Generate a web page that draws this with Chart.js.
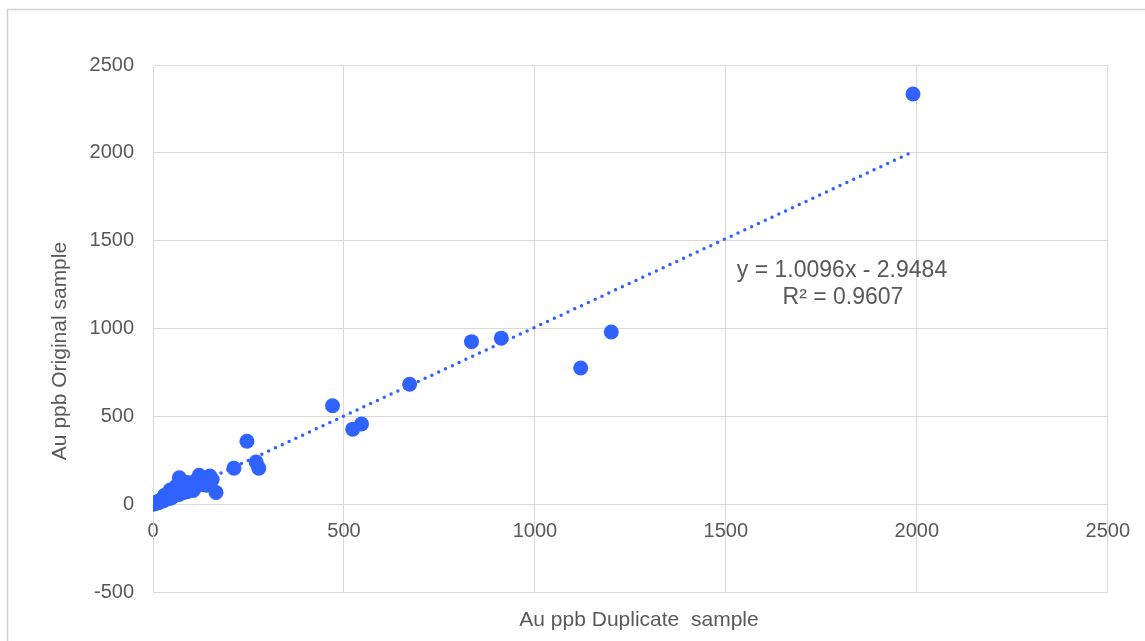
<!DOCTYPE html>
<html>
<head>
<meta charset="utf-8">
<script src="https://cdn.jsdelivr.net/npm/chart.js@4/dist/chart.umd.min.js"></script>
<style>
  html, body { margin: 0; padding: 0; background: #fff; }
  #wrap { width: 1145px; height: 641px; position: relative; }
</style>
</head>
<body>
<div id="wrap"><canvas id="c" width="1145" height="641"></canvas></div>
<script>
// Duplicate (x) vs Original (y) Au ppb values
const duplicateAu = [0, 2, 5, 8, 10, 12, 15, 18, 20, 22, 25, 28, 30, 30, 33, 36, 40, 40, 44, 45, 48, 50, 53, 55, 58, 60, 62, 65, 68, 69, 72, 78, 80, 82, 85, 88, 92, 95, 98, 100, 105, 110, 110, 115, 121, 126, 132, 140, 146, 149, 155, 165, 212, 246, 270, 277, 470, 523, 546, 672, 834, 912, 1120, 1200, 1990];
const originalAu  = [0, 3, 4, 6, 12, 8, 10, 20, 15, 25, 18, 30, 22, 50, 28, 40, 35, 60, 32, 80, 45, 38, 60, 50, 70, 100, 61, 85, 55, 150, 75, 65, 110, 90, 125, 70, 80, 120, 100, 95, 78, 95, 130, 105, 165, 120, 112, 108, 130, 160, 140, 67, 205, 358, 240, 205, 560, 427, 456, 683, 925, 945, 775, 980, 2335];
// linear trendline endpoints (y = 1.0096x - 2.9484)
const trendX = [0, 1990];
const trendY = [-2.9, 2006.2];
const xTicks = [0, 500, 1000, 1500, 2000, 2500];
const yTicks = [-500, 0, 500, 1000, 1500, 2000, 2500];
const xTitle = 'Au ppb Duplicate  sample';
const yTitle = 'Au ppb Original sample';
const eqLine1 = 'y = 1.0096x - 2.9484';
const eqLine2 = 'R² = 0.9607';

const BLUE = '#3062FF';
const GRID = '#d9d9d9';
const TXT = '#595959';
const FONT = '"Liberation Sans", Arial, sans-serif';

const scatterData = duplicateAu.map((x, i) => ({ x: x, y: originalAu[i] }));
const trendData = trendX.map((x, i) => ({ x: x, y: trendY[i] }));

const decor = {
  id: 'decor',
  beforeDraw(chart) {
    const ctx = chart.ctx;
    ctx.save();
    ctx.fillStyle = '#fff';
    ctx.fillRect(0, 0, chart.width, chart.height);
    ctx.strokeStyle = '#d0d0d0';
    ctx.lineWidth = 1.5;
    ctx.strokeRect(7.5, 9.5, 1300, 800);
    ctx.restore();
  },
  afterDraw(chart) {
    const ctx = chart.ctx;
    ctx.save();
    ctx.fillStyle = TXT;
    ctx.textAlign = 'center';
    ctx.textBaseline = 'middle';
    ctx.font = '21px ' + FONT;
    ctx.fillText(xTitle, 639, 620);
    ctx.save();
    ctx.translate(60, 351);
    ctx.rotate(-Math.PI / 2);
    ctx.fillText(yTitle, 0, 0);
    ctx.restore();
    ctx.font = '23px ' + FONT;
    ctx.fillText(eqLine1, 842, 271);
    ctx.fillText(eqLine2, 843, 298);
    ctx.restore();
  }
};

new Chart(document.getElementById('c'), {
  type: 'scatter',
  data: {
    datasets: [
      {
        type: 'line',
        label: 'Linear trend',
        data: trendData,
        borderColor: BLUE,
        borderWidth: 3.5,
        borderDash: [0, 7.5],
        borderCapStyle: 'round',
        pointRadius: 0,
        fill: false,
        order: 0
      },
      {
        label: 'Au ppb',
        data: scatterData,
        backgroundColor: BLUE,
        borderColor: BLUE,
        borderWidth: 0,
        pointRadius: 7.5,
        pointHoverRadius: 7.5,
        order: 1
      }
    ]
  },
  options: {
    responsive: false,
    animation: false,
    events: [],
    layout: { padding: { left: 0, top: 65, right: 29, bottom: 49 } },
    plugins: { legend: { display: false }, tooltip: { enabled: false } },
    scales: {
      x: {
        type: 'linear',
        position: { y: 0 },
        min: 0, max: 2500,
        afterBuildTicks(s) { s.ticks = xTicks.map(v => ({ value: v })); },
        grid: { color: GRID, lineWidth: 1, drawTicks: false },
        border: { color: GRID, width: 1 },
        ticks: { color: TXT, font: { family: FONT, size: 20 }, padding: 15, maxRotation: 0, callback: v => String(v) }
      },
      y: {
        type: 'linear',
        position: 'left',
        min: -500, max: 2500,
        afterBuildTicks(s) { s.ticks = yTicks.map(v => ({ value: v })); },
        afterFit(s) { s.width = 153; },
        grid: { color: GRID, lineWidth: 1, drawTicks: false },
        border: { color: GRID, width: 1 },
        ticks: { color: TXT, font: { family: FONT, size: 20 }, padding: 19, callback: v => String(v) }
      }
    }
  },
  plugins: [decor]
});
</script>
</body>
</html>
